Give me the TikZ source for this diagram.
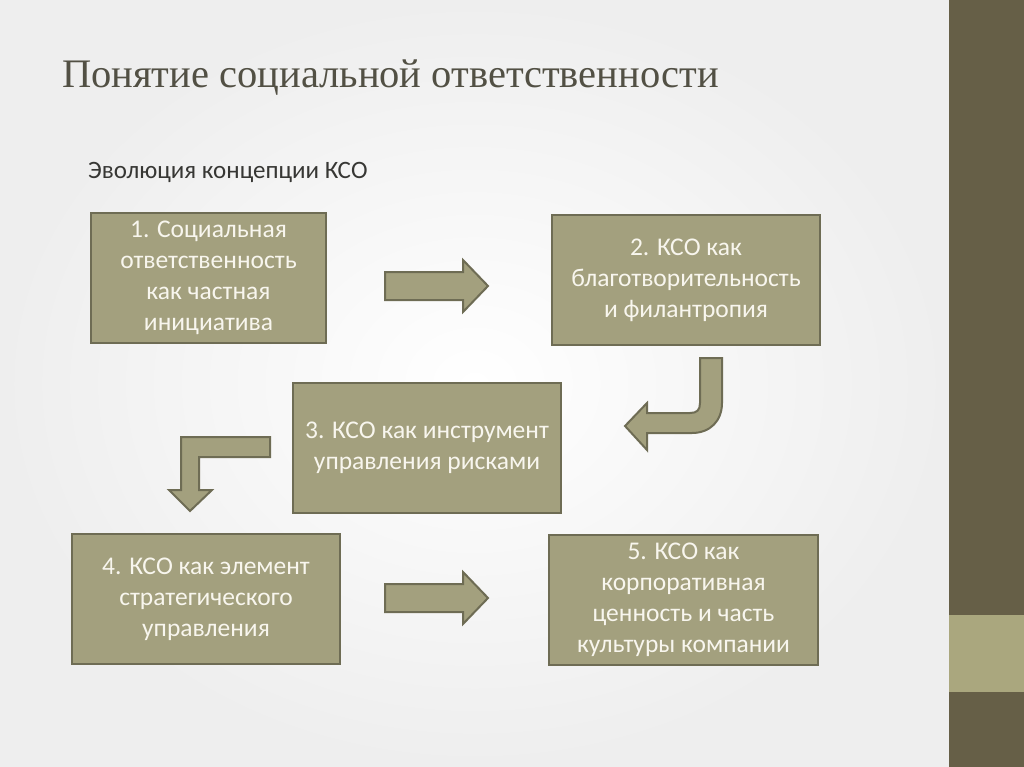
\documentclass[tikz,border=0pt]{standalone}
\usepackage{fontspec}
\setmainfont{Carlito}
\newfontfamily\titlefont{Liberation Serif}
\definecolor{boxfill}{RGB}{163,160,126}
\definecolor{boxline}{RGB}{110,108,84}
\definecolor{boxtext}{RGB}{248,246,238}
\definecolor{barcol}{RGB}{102,95,71}
\definecolor{barlight}{RGB}{170,167,126}
\definecolor{titlecol}{RGB}{82,80,68}
\definecolor{subcol}{RGB}{55,55,52}
\definecolor{paper}{RGB}{238,238,238}
\tikzstyle{stage}=[rectangle, draw=boxline, fill=boxfill, line width=2.5pt, text=boxtext, align=center, inner sep=0pt, minimum height=130pt, font=\fontsize{25.5}{31}\selectfont]
\tikzstyle{blockarrow}=[draw=boxline, fill=boxfill, line width=2pt, line join=miter]
\newcommand{\stage}{\node[stage]}

\begin{document}
\begin{tikzpicture}[x=1pt,y=-1pt]
	\useasboundingbox (0,0) rectangle (1024,767);
	%% slide background and the bar on the right
	\shade[inner color=white, outer color=paper] (0,0) rectangle (949,767);
	\fill[barcol] (949,0) rectangle (1024,767);
	\fill[barlight] (949,615) rectangle (1024,692);

	%% headings
	\node[anchor=base west, inner sep=0pt, text=titlecol, font=\titlefont\fontsize{40.5}{42}\selectfont] (title) at (62,88) {Понятие социальной ответственности};
	\node[anchor=base west, inner sep=0pt, text=subcol, font=\fontsize{25}{28}\selectfont] (subtitle) at (88,179) {Эволюция концепции КСО};

	%% the five stages
	\stage (s1) at (208.5,278) [minimum width=235pt] {1. Социальная\\ответственность\\как частная\\инициатива};
	\stage (s2) at (686,280) [minimum width=268pt] {2. КСО как\\благотворительность\\и филантропия};
	\stage (s3) at (427,448) [minimum width=268pt] {3. КСО как инструмент\\управления рисками};
	\stage (s4) at (206,599) [minimum width=268pt] {4. КСО как элемент\\стратегического\\управления};
	\stage (s5) at (683.5,600) [minimum width=269pt] {5. КСО как\\корпоративная\\ценность и часть\\культуры компании};

	%% block arrows between the stages
	\draw[blockarrow] (385,272) -- (463,272) -- (463,260) -- (488,286) -- (463,312) -- (463,300) -- (385,300) -- cycle;
	\draw[blockarrow] (722,358) -- (722,403) .. controls (722,421) and (710,433) .. (692,433)
		-- (647,433) -- (647,450) -- (625,426) -- (647,403) -- (647,413) -- (690,413)
		.. controls (697,413) and (700,410) .. (700,403) -- (700,358) -- cycle;
	\draw[blockarrow] (270,437) -- (181,437) -- (181,490) -- (169,490) -- (190,511) -- (212,490) -- (199,490) -- (199,457) -- (270,457) -- cycle;
	\draw[blockarrow] (385,584) -- (463,584) -- (463,572) -- (488,598) -- (463,624) -- (463,612) -- (385,612) -- cycle;
\end{tikzpicture}
\end{document}
